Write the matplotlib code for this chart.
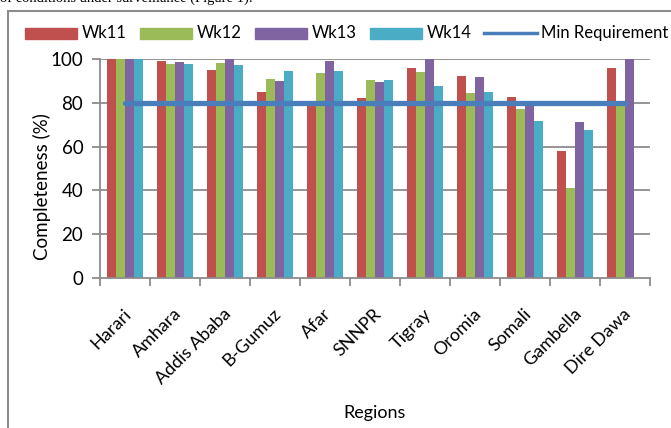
import matplotlib
matplotlib.use("Agg")
import matplotlib.pyplot as plt
from matplotlib.patches import Rectangle
from matplotlib.lines import Line2D
import matplotlib.transforms as mtransforms
import numpy as np

regions = ["Harari", "Amhara", "Addis Ababa", "B-Gumuz", "Afar", "SNNPR",
           "Tigray", "Oromia", "Somali", "Gambella", "Dire Dawa"]
wk11 = [100, 99.1, 95.0, 84.9, 79.5, 82.2, 95.9, 92.2, 82.6, 58.0, 95.9]
wk12 = [100, 97.7, 98.2, 90.9, 93.6, 90.4, 94.1, 84.5, 77.2, 41.1, 80.0]
wk13 = [100, 98.6, 100, 90.0, 99.1, 89.5, 100, 91.8, 79.7, 71.2, 100]
wk14 = [100, 97.7, 97.3, 94.5, 94.5, 90.4, 87.7, 84.9, 71.7, 67.6, 0]
min_req = [80] * len(regions)
series_names = ["Wk11", "Wk12", "Wk13", "Wk14"]
yticks = [0, 20, 40, 60, 80, 100]

colors = ["#C0504D", "#9BBB59", "#8064A2", "#4BACC6"]
line_color = "#4A7EBB"
grid_color = "#8C8C8C"
FONT = ["Lato", "DejaVu Sans"]
plt.rcParams["font.family"] = FONT

fig = plt.figure(figsize=(6.71, 4.28), dpi=100)
W, H = 671, 428
ax = fig.add_axes([100 / W, (H - 278) / H, 550 / W, 219 / H])

x = np.arange(len(regions))
bw = 0.183
for i, (vals, c) in enumerate(zip([wk11, wk12, wk13, wk14], colors)):
    ax.bar(x + (i - 1.5) * bw, vals, width=bw, color=c, zorder=2, linewidth=0)
ax.plot(x, min_req, color=line_color, lw=3.8, solid_capstyle="round", zorder=3)

ax.set_xlim(-0.5, len(regions) - 0.5)
ax.set_ylim(0, 100)
ax.set_yticks(yticks)
ax.set_yticklabels([str(v) for v in yticks], fontsize=13.5)
for v in yticks[1:]:
    ax.axhline(v, color=grid_color, lw=1.3, zorder=1)
ax.set_xticks(x)
ax.set_xticklabels(regions, rotation=45, ha="right", va="top",
                   rotation_mode="anchor", fontsize=13)
ax.tick_params(axis="x", which="major", length=0, pad=20)
offset = mtransforms.ScaledTranslation(-2 / 100, 0, fig.dpi_scale_trans)
for lab in ax.get_xticklabels():
    lab.set_transform(lab.get_transform() + offset)
ax.set_xticks(np.arange(-0.5, len(regions), 1), minor=True)
ax.tick_params(axis="x", which="minor", length=6, width=1.3, color=grid_color, direction="out")
ax.tick_params(axis="y", length=6, width=1.3, color=grid_color, direction="out", pad=6)
for s in ["top", "right"]:
    ax.spines[s].set_visible(False)
for s in ["left", "bottom"]:
    ax.spines[s].set_color(grid_color)
    ax.spines[s].set_linewidth(1.3)

fig.text(42 / W, 1 - 187 / H, "Completeness (%)", rotation=90, ha="center",
         va="center", fontsize=13.5)
fig.text(375 / W, 1 - 413 / H, "Regions", ha="center", va="center", fontsize=13)

# legend (manual positions to mimic Excel layout)
ly = 1 - 33 / H
patch_x = [25, 140, 255, 370]
for px, c, name in zip(patch_x, colors, series_names):
    fig.patches.append(Rectangle((px / W, (H - 39) / H), 52 / W, 11 / H,
                                 transform=fig.transFigure, color=c))
    fig.text((px + 57) / W, ly, name, ha="left", va="center", fontsize=12)
fig.lines.append(Line2D([484 / W, 537 / W], [ly, ly], transform=fig.transFigure,
                        color=line_color, lw=2.5))
fig.text(541 / W, ly, "Min Requirement", ha="left", va="center", fontsize=12)

# chart border
fig.patches.append(Rectangle((8 / W, -0.1), 1.2, 1 - 11 / H + 0.1,
                             transform=fig.transFigure, fill=False,
                             edgecolor="#8C8C8C", lw=1.5))
# cropped document text above chart
fig.text(0 / W, 1 - 2 / H, "of conditions under surveillance (Figure 1).",
         ha="left", va="baseline", fontsize=10.5, family=["Liberation Serif"])

fig.savefig("out.png", dpi=100)
